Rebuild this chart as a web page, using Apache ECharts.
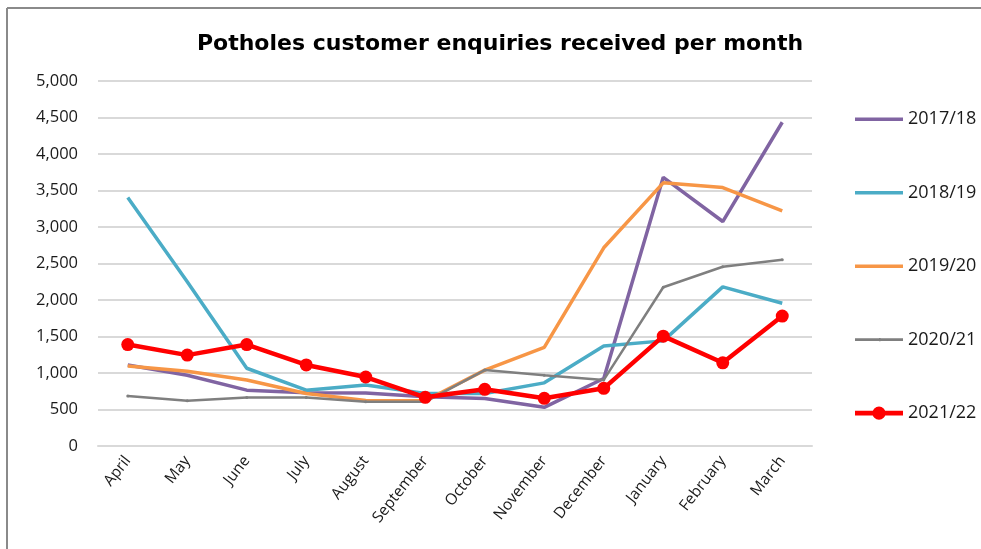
<!DOCTYPE html>
<html>
<head>
<meta charset="utf-8">
<script src="https://cdn.jsdelivr.net/npm/echarts@6/dist/echarts.min.js"></script>
<style>
html,body{margin:0;padding:0;background:#fff;}
#c{width:981px;height:549px;}
</style>
</head>
<body>
<div id="c"></div>
<script>
const months = ['April','May','June','July','August','September','October','November','December','January','February','March'];
const yTicks = [0, 500, 1000, 1500, 2000, 2500, 3000, 3500, 4000, 4500, 5000];
const seriesNames = ['2017/18','2018/19','2019/20','2020/21','2021/22'];
const s2017 = [1110, 970, 765, 730, 725, 675, 650, 530, 925, 3680, 3075, 4435];
const s2018 = [3405, 2250, 1065, 765, 835, 720, 720, 865, 1370, 1440, 2180, 1955];
const s2019 = [1095, 1025, 905, 720, 625, 620, 1040, 1350, 2715, 3605, 3540, 3220];
const s2020 = [685, 620, 665, 665, 605, 605, 1040, 970, 905, 2175, 2455, 2550];
const s2021 = [1390, 1245, 1390, 1110, 945, 667, 777, 653, 790, 1505, 1140, 1780];

const chart = echarts.init(document.getElementById('c'), null, {renderer:'canvas'});
const labelFont = 'Open Sans';
function mk(name, data, color, width, symbol, symSize){
  return {
    name, type:'line', data,
    symbol, symbolSize: symSize, showSymbol: symbol !== 'none',
    lineStyle:{color, width},
    itemStyle:{color},
    emphasis:{disabled:true},
    z: name === '2021/22' ? 5 : 2
  };
}
const lineIcon = 'path://M0,0M48,14M0,5.5h48v3.5h-48z';
const greyIcon = 'path://M0,0M48,14M0,5.8h48v2.6h-48zM24,5.5h1.6v3.2h-1.6z';
const redIcon = 'path://M0,0M48,14M0,4.8h18v4.6h-18zM30,4.8h18v4.6h-18zM30.6,7.1a6.6,6.6 0 1,1 -13.2,0a6.6,6.6 0 1,1 13.2,0z';
chart.setOption({
  animation:false,
  backgroundColor:'#fff',
  title:{
    text:'Potholes customer enquiries received per month',
    left:495, top:28, textAlign:'center',
    textStyle:{fontFamily:'DejaVu Sans', fontWeight:'bold', fontSize:22, color:'#000'}
  },
  grid:{left:98, right:169, top:81, bottom:103, containLabel:false},
  legend:{
    orient:'vertical', left:855, top:110, padding:0,
    itemWidth:48, itemHeight:14, itemGap:55.5,
    textStyle:{fontFamily:labelFont, fontSize:18, color:'#1a1a1a'},
    data:[
      {name:seriesNames[0], icon:lineIcon},
      {name:seriesNames[1], icon:lineIcon},
      {name:seriesNames[2], icon:lineIcon},
      {name:seriesNames[3], icon:greyIcon},
      {name:seriesNames[4], icon:redIcon}
    ]
  },
  xAxis:{
    type:'category', data:months, boundaryGap:true,
    axisLine:{show:true, lineStyle:{color:'#d9d9d9', width:2}},
    axisTick:{show:false},
    axisLabel:{rotate:52, margin:12, fontFamily:labelFont, fontSize:15.5, color:'#1a1a1a', interval:0}
  },
  yAxis:{
    type:'value', min:0, max:5000, interval:500,
    axisLine:{show:false}, axisTick:{show:false},
    splitLine:{lineStyle:{color:'#d9d9d9', width:2}},
    axisLabel:{margin:20, fontFamily:labelFont, fontSize:16.5, color:'#1a1a1a',
      formatter:v => yTicks.includes(v) ? v.toLocaleString('en-US') : ''}
  },
  series:[
    mk(seriesNames[0], s2017, '#8064A2', 3.5, 'none', 0),
    mk(seriesNames[1], s2018, '#4BACC6', 3.5, 'none', 0),
    mk(seriesNames[2], s2019, '#F79646', 3.5, 'none', 0),
    mk(seriesNames[3], s2020, '#7F7F7F', 2.5, 'circle', 3),
    mk(seriesNames[4], s2021, '#FF0000', 4.5, 'circle', 13)
  ],
  graphic:[
    {type:'line', shape:{x1:7, y1:8, x2:981, y2:8}, style:{stroke:'#8a8a8a', lineWidth:2}, silent:true},
    {type:'line', shape:{x1:7, y1:8, x2:7, y2:549}, style:{stroke:'#8a8a8a', lineWidth:2}, silent:true}
  ]
});
</script>
</body>
</html>
